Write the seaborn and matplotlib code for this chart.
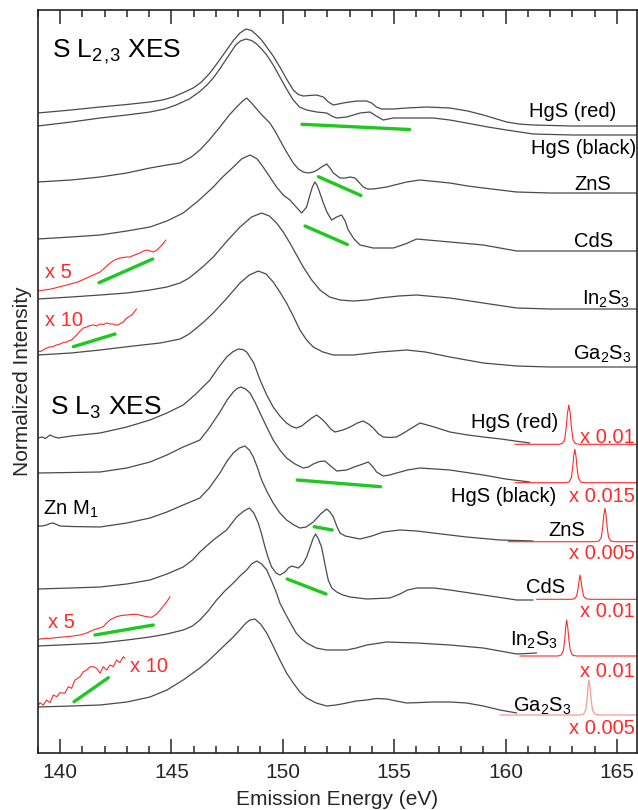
import matplotlib
matplotlib.use("Agg")
import matplotlib.pyplot as plt
import seaborn as sns
import pandas as pd

# ---------------- DATA (energy in eV, intensity in arbitrary stacked units) ----------------
# S L2,3 XES
l23_hgs_red_e = [139.0, 140.5, 141.8, 143.0, 144.04, 144.6, 145.08, 145.5, 145.98, 146.35, 146.73, 147.1, 147.48, 147.8, 148.08, 148.35, 148.6, 148.83, 149.05, 149.28, 149.57, 149.87, 150.17, 150.47, 150.7, 150.92, 151.2, 151.52, 151.82, 152.05, 152.27, 152.5, 152.71, 153.0, 153.32, 153.76, 153.99, 154.2, 154.44, 154.96, 155.56, 156.46, 157.5, 158.3, 159.0, 160.05, 160.6, 161.24, 163.0, 165.9]
l23_hgs_red_i = [640, 643, 646, 648.5, 651, 653, 656, 660, 665, 671, 680, 691, 703, 713, 720, 724, 722.5, 718, 713, 706, 697, 686, 674, 663, 658.5, 657, 657.5, 658, 656, 651, 648, 649, 650, 651, 652, 652, 650, 646, 644, 644, 645, 646, 645, 642, 638, 631, 629, 628, 627, 627]

l23_hgs_black_e = [139.0, 140.5, 141.8, 143.0, 144.04, 144.7, 145.21, 145.8, 146.25, 146.6, 146.88, 147.14, 147.5, 147.89, 148.1, 148.35, 148.6, 148.83, 149.05, 149.28, 149.57, 149.87, 150.17, 150.47, 150.75, 151.07, 151.52, 151.97, 152.2, 152.42, 152.87, 153.47, 153.91, 154.2, 154.51, 154.96, 156.16, 156.75, 157.5, 158.25, 159.2, 160.05, 161.24, 163.0, 165.9]
l23_hgs_black_i = [627, 631, 635, 638, 641, 644, 648, 654, 661, 668, 675, 683, 695, 708, 712, 714, 712.5, 709, 704, 698, 688, 676, 664, 653, 646, 643, 641, 640, 637, 635, 636, 640, 641, 637, 633, 635, 635, 635, 633, 630, 626, 623, 619, 618, 618]

l23_zns_e = [139.0, 140.5, 141.8, 143.0, 144.04, 144.8, 145.39, 145.9, 146.28, 146.7, 147.18, 147.6, 147.93, 148.2, 148.38, 148.6, 148.98, 149.42, 149.65, 149.87, 150.17, 150.47, 150.7, 150.92, 151.15, 151.37, 151.55, 151.74, 151.97, 152.12, 152.27, 152.57, 152.8, 153.02, 153.24, 153.45, 153.61, 153.8, 154.06, 154.66, 155.56, 156.16, 157.5, 158.3, 159.0, 160.5, 162.0, 165.9]
l23_zns_i = [571, 573, 576, 580, 585, 588, 590, 596, 603, 613, 626, 638, 646, 652, 655, 650, 640, 630, 622, 613, 601, 590, 584, 581, 580, 581, 583, 586, 589, 585, 580, 575, 575, 576, 575, 570, 566, 564, 564, 566, 571, 573, 570, 567, 565, 561, 560, 560]

l23_cds_e = [139.0, 140.5, 141.8, 143.0, 144.04, 144.8, 145.53, 146.2, 146.88, 147.3, 147.78, 148.15, 148.53, 148.85, 149.12, 149.42, 149.72, 150.02, 150.32, 150.6, 150.85, 151.07, 151.22, 151.33, 151.44, 151.53, 151.62, 151.82, 151.98, 152.19, 152.42, 152.64, 152.8, 152.94, 153.2, 153.47, 154.06, 154.96, 155.5, 156.01, 157.5, 159.0, 160.5, 162.0, 165.9]
l23_cds_i = [514, 516, 518, 522, 526, 532, 540, 552, 566, 576, 586, 594, 598, 594, 586, 576, 566, 558, 553, 546, 540, 546, 558, 566, 571, 568, 563, 550, 541, 533, 536, 538, 532, 523, 514, 508, 505, 505, 509, 514, 511, 508, 502, 502, 502]

l23_in2s3_e = [139.0, 140.5, 141.8, 143.0, 144.04, 144.8, 145.39, 145.8, 146.13, 146.5, 146.88, 147.5, 148.08, 148.6, 149.05, 149.4, 149.72, 150.02, 150.32, 150.62, 150.92, 151.3, 151.67, 152.1, 152.57, 153.17, 153.8, 154.36, 155.2, 156.01, 157.5, 159.0, 160.5, 162.0, 165.9]
l23_in2s3_i = [454, 456, 458, 460, 463, 466, 470, 475, 481, 488, 496, 512, 526, 536, 540, 537, 530, 521, 510, 498, 486, 473, 463, 456, 453, 452, 453, 455, 457, 458, 455, 450, 445, 444, 444]
l23_in2s3_x5_e = [139.0, 139.6, 140.3, 140.8, 141.2, 141.5, 141.8, 142.0, 142.25, 142.45, 142.69, 143.0, 143.14, 143.35, 143.59, 143.75, 143.89, 144.05, 144.19, 144.35, 144.49, 144.62, 144.75]
l23_in2s3_x5_i = [462, 464, 468, 471, 475, 478, 481, 485, 490, 493, 495, 496, 496, 498, 500, 502, 503, 502, 501, 503, 506, 509, 513]

l23_ga2s3_e = [139.0, 140.5, 141.8, 143.29, 144.5, 145.39, 145.8, 146.13, 146.5, 146.88, 147.5, 148.08, 148.5, 148.9, 149.25, 149.57, 149.87, 150.17, 150.47, 150.77, 151.07, 151.37, 151.8, 152.27, 153.17, 154.36, 155.56, 156.4, 157.5, 159.0, 160.5, 162.0, 165.9]
l23_ga2s3_i = [398, 400, 403, 407, 410, 414, 419, 425, 432, 440, 455, 470, 478, 482, 479, 471, 461, 450, 437, 423, 413, 406, 401, 398, 398, 401, 403, 401, 396, 390, 387, 386, 386]
l23_ga2s3_x10_e = [139.0, 139.12, 139.25, 139.4, 139.55, 139.7, 139.85, 140.0, 140.15, 140.3, 140.42, 140.52, 140.65, 140.75, 140.9, 141.05, 141.2, 141.35, 141.49, 141.65, 141.8, 141.95, 142.1, 142.25, 142.39, 142.5, 142.62, 142.75, 142.84, 142.95, 143.07, 143.22, 143.33, 143.44]
l23_ga2s3_x10_i = [402, 401.5, 403, 405, 406, 406.5, 408, 409, 410.5, 411, 412.5, 413, 416, 418, 422, 425, 426, 427.5, 428, 427, 429, 428.5, 430, 429, 429, 428, 428, 430, 431, 434, 436, 438, 441, 444]

# S L3 XES
l3_hgs_red_e = [139.0, 139.2, 139.35, 139.55, 139.75, 139.92, 140.5, 141.8, 143.0, 144.04, 144.8, 145.53, 146.1, 146.73, 147.1, 147.48, 147.75, 148.0, 148.2, 148.38, 148.7, 148.98, 149.28, 149.57, 149.87, 150.17, 150.4, 150.62, 150.85, 151.07, 151.3, 151.52, 151.75, 151.97, 152.15, 152.34, 152.7, 153.02, 153.35, 153.61, 153.85, 154.06, 154.3, 154.51, 154.8, 155.11, 155.5, 155.86, 156.16, 156.8, 157.5, 158.3, 159.0, 159.8, 160.42, 161.09]
l3_hgs_red_i = [315, 316, 314.5, 318, 316, 315, 317, 320, 326, 333, 340, 348, 359, 373, 385, 396, 401, 404, 403.5, 401, 390, 373, 358, 346, 337, 330, 326.5, 325, 327, 331, 335, 338, 334, 329, 324, 321, 323, 326, 330, 332, 329, 325, 319, 316, 315.5, 316, 321, 326, 330, 326, 321, 318, 316, 314, 312, 310]
l3_hgs_red_el_e = [160.42, 162.4, 162.55, 162.65, 162.72, 162.78, 162.84, 162.9, 162.96, 163.03, 163.13, 163.3, 165.9]
l3_hgs_red_el_i = [308.7, 308.7, 309.5, 313, 325, 340, 348, 340, 325, 313, 309.5, 308.7, 308.7]

l3_hgs_black_e = [139.0, 140.5, 141.8, 143.0, 144.04, 144.8, 145.53, 146.28, 146.7, 147.18, 147.5, 147.78, 147.95, 148.12, 148.33, 148.53, 148.75, 148.98, 149.28, 149.57, 149.87, 150.17, 150.55, 150.92, 151.15, 151.37, 151.65, 151.89, 152.15, 152.42, 152.87, 153.2, 153.47, 153.84, 154.05, 154.21, 154.51, 154.8, 155.11, 155.6, 156.16, 157.5, 159.0, 160.0, 161.09]
l3_hgs_black_i = [280, 280.5, 281, 285, 291, 298, 306, 313, 325, 341, 353, 361, 364.5, 366, 364, 360, 351, 340, 326, 313, 303, 295, 289, 285, 286, 289, 291.5, 292, 287, 282, 283, 286, 288, 291, 286, 281, 277, 278, 280, 283, 285, 283, 278, 274, 271]
l3_hgs_black_el_e = [160.42, 162.7, 162.85, 162.95, 163.01, 163.06, 163.11, 163.16, 163.21, 163.27, 163.37, 163.55, 165.9]
l3_hgs_black_el_i = [270.3, 270.3, 271, 275, 285, 297, 303.7, 297, 285, 275, 271, 270.3, 270.3]

l3_zns_e = [139.0, 139.2, 139.4, 139.55, 139.7, 139.85, 140.0, 140.5, 141.8, 143.0, 144.04, 144.8, 145.53, 146.28, 146.7, 147.18, 147.5, 147.78, 148.05, 148.3, 148.5, 148.68, 148.87, 149.05, 149.3, 149.57, 149.87, 150.17, 150.5, 150.77, 151.05, 151.37, 151.7, 151.97, 152.12, 152.27, 152.42, 152.57, 152.8, 153.02, 153.47, 154.0, 154.51, 155.26, 156.0, 156.75, 158.25, 159.75, 161.24]
l3_zns_i = [227, 227, 228, 229.5, 230, 228.5, 227, 226.5, 226, 230, 235, 241, 248, 255, 265, 280, 292, 300, 305, 307, 303, 296, 285, 273, 261, 250, 240, 233, 228, 225, 226, 231, 239, 244, 241, 236, 227, 220, 217, 216, 214, 217, 221, 223, 222, 220, 216, 213, 212]
l3_zns_el_e = [160.12, 164.05, 164.2, 164.3, 164.36, 164.41, 164.46, 164.51, 164.56, 164.62, 164.72, 164.9, 165.9]
l3_zns_el_i = [211.3, 211.3, 212, 216, 226, 238, 244.7, 238, 226, 216, 212, 211.3, 211.3]

l3_cds_e = [139.0, 140.5, 141.8, 143.0, 144.04, 144.8, 145.53, 145.95, 146.28, 146.88, 147.48, 147.93, 148.25, 148.5, 148.7, 148.9, 149.05, 149.2, 149.35, 149.5, 149.7, 149.87, 150.1, 150.25, 150.4, 150.55, 150.7, 150.9, 151.07, 151.26, 151.37, 151.47, 151.6, 151.74, 151.9, 152.04, 152.2, 152.42, 152.7, 153.02, 153.77, 154.81, 155.26, 155.6, 156.01, 156.8, 157.5, 159.0, 160.5, 161.24]
l3_cds_i = [164, 165, 166, 169, 173, 179, 186, 193, 201, 213, 223, 236, 242, 245, 240, 230, 219, 206, 195, 186, 180, 178, 181, 185, 187, 186, 185, 189, 196, 208, 215, 219, 214, 206, 188, 173, 165, 161, 158, 156, 154, 155, 159, 163, 165, 165, 163, 158, 153, 153]
l3_cds_el_e = [161.39, 162.95, 163.1, 163.19, 163.25, 163.3, 163.34, 163.39, 163.44, 163.5, 163.6, 163.78, 165.9]
l3_cds_el_i = [153.7, 153.7, 154.3, 157, 164, 172, 178, 172, 164, 157, 154.3, 153.7, 153.7]

l3_in2s3_e = [139.0, 140.5, 141.8, 143.0, 144.04, 144.8, 145.53, 145.95, 146.28, 146.65, 147.03, 147.4, 147.78, 148.08, 148.38, 148.6, 148.83, 149.05, 149.28, 149.5, 149.72, 149.87, 150.1, 150.32, 150.6, 150.85, 151.07, 151.5, 151.97, 152.87, 153.3, 153.77, 154.66, 155.3, 156.01, 157.5, 159.0, 160.0, 160.5, 161.39]
l3_in2s3_i = [107, 108.5, 110, 113, 116, 119, 123, 127, 133, 142, 153, 162, 170, 177, 183, 189, 192, 189, 183, 172, 160, 150, 140, 131, 120, 114, 110, 105, 103, 103, 105, 108, 111, 110.5, 110, 108, 105, 101, 99, 100]
l3_in2s3_x5_e = [139.0, 139.3, 139.55, 139.9, 140.3, 140.6, 140.9, 141.2, 141.49, 141.7, 141.94, 142.1, 142.24, 142.4, 142.54, 142.75, 142.99, 143.2, 143.44, 143.65, 143.89, 144.11, 144.34, 144.5, 144.64, 144.8, 144.94]
l3_in2s3_x5_i = [113.7, 114.5, 114.7, 115.5, 116.3, 117, 118, 120, 123, 124.5, 126.3, 130, 133, 135, 136.3, 137.5, 138, 138.5, 138.7, 137.5, 136.3, 135.7, 139, 143, 147, 151.5, 156.3]
l3_in2s3_el_e = [160.64, 162.35, 162.5, 162.6, 162.66, 162.7, 162.74, 162.79, 162.84, 162.9, 163.0, 163.18, 165.9]
l3_in2s3_el_i = [97, 97, 98, 103, 114, 126, 133, 126, 114, 103, 98, 97, 97]

l3_ga2s3_e = [139.0, 140.5, 141.8, 143.0, 144.04, 144.8, 145.53, 146.28, 146.65, 147.03, 147.4, 147.78, 148.15, 148.35, 148.53, 148.75, 149.0, 149.28, 149.57, 149.87, 150.17, 150.47, 150.77, 151.07, 151.5, 151.97, 152.4, 152.87, 153.3, 153.77, 154.2, 154.66, 155.1, 155.56, 156.2, 156.75, 157.5, 158.25, 159.0, 159.75, 160.5]
l3_ga2s3_i = [46, 47, 48, 51, 56, 63, 73, 85, 92, 100, 108, 116, 125, 130, 133, 134, 129, 120, 107, 93, 80, 70, 61, 55, 50, 47, 48, 50, 52, 53, 54.5, 54, 52, 50, 50.5, 51, 51, 50, 47, 43, 40]
l3_ga2s3_x10_e = [139.0, 139.1, 139.25, 139.4, 139.55, 139.7, 139.85, 140.0, 140.22, 140.37, 140.52, 140.67, 140.9, 141.05, 141.2, 141.35, 141.49, 141.65, 141.8, 141.94, 142.1, 142.24, 142.39, 142.54, 142.69, 142.84, 142.92]
l3_ga2s3_x10_i = [46.3, 50.3, 48, 53, 50.3, 58, 56.3, 60.3, 59.7, 66.3, 64.7, 73, 76.3, 81.3, 83, 86.3, 86.3, 84.7, 79.7, 86.3, 83, 88, 86.3, 93, 90.3, 96.3, 94.7]
l3_ga2s3_el_e = [159.75, 163.35, 163.5, 163.6, 163.66, 163.7, 163.74, 163.79, 163.84, 163.9, 164.0, 164.18, 165.9]
l3_ga2s3_el_i = [38, 38, 39, 43, 54, 66, 73, 66, 54, 43, 39, 38, 38]

# green guide lines (start, end)
green_e = [[150.86, 155.69], [151.60, 153.51], [151.0, 152.90], [141.75, 144.16], [140.60, 142.47],
           [150.65, 154.39], [151.41, 152.22], [150.20, 151.94], [141.57, 144.19], [140.63, 142.17]]
green_i = [[628.7, 623.5], [576.3, 557.5], [527, 508.5], [470.3, 494], [406.3, 419],
           [273, 266.3], [226.3, 223], [174, 159], [118, 128], [51.3, 75.3]]

# labels
sample_names = ["HgS (red)", "HgS (black)", "ZnS", "CdS", r"In$_\mathregular{2}$S$_\mathregular{3}$", r"Ga$_\mathregular{2}$S$_\mathregular{3}$"]
l23_label_e = [164.98, 165.85, 164.76, 164.82, 165.58, 165.66]
l23_label_i = [635.7, 599, 563, 506.3, 448, 393]
l3_label_e = [162.36, 162.29, 163.56, 162.67, 162.36, 162.96]
l3_label_i = [324.7, 251.3, 217, 159.7, 107, 41.3]
elastic_factors = ["x 0.01", "x 0.015", "x 0.005", "x 0.01", "x 0.01", "x 0.005"]
elastic_label_i = [310.3, 251.3, 193.7, 135.7, 76.3, 19]

# ---------------- STYLE ----------------
sns.set_style("ticks")
plt.rcParams['font.family'] = ['Liberation Sans', 'DejaVu Sans']
plt.rcParams['mathtext.fontset'] = 'custom'
plt.rcParams['mathtext.rm'] = 'Liberation Sans'
plt.rcParams['mathtext.it'] = 'Liberation Sans:italic'
plt.rcParams['mathtext.default'] = 'regular'

BLACK = '#4a4a4a'
RED = '#ff2a2a'
PINK = '#f59a9a'
GREEN = '#1fc81f'

fig = plt.figure(figsize=(6.38, 8.10), dpi=100)
ax = fig.add_axes([37.7 / 638, 57 / 810, (637 - 37.7) / 638, 743 / 810])


def draw(e, i, color, lw=0.9):
    df = pd.DataFrame({'e': e, 'i': i})
    sns.lineplot(data=df, x='e', y='i', ax=ax, color=color, lw=lw, sort=False, estimator=None)


# black spectra
for e, i in [(l23_hgs_red_e, l23_hgs_red_i), (l23_hgs_black_e, l23_hgs_black_i), (l23_zns_e, l23_zns_i),
             (l23_cds_e, l23_cds_i), (l23_in2s3_e, l23_in2s3_i), (l23_ga2s3_e, l23_ga2s3_i),
             (l3_hgs_red_e, l3_hgs_red_i), (l3_hgs_black_e, l3_hgs_black_i), (l3_zns_e, l3_zns_i),
             (l3_cds_e, l3_cds_i), (l3_in2s3_e, l3_in2s3_i), (l3_ga2s3_e, l3_ga2s3_i)]:
    draw(e, i, BLACK, 0.9)

# red magnified / elastic lines
for e, i in [(l23_in2s3_x5_e, l23_in2s3_x5_i), (l23_ga2s3_x10_e, l23_ga2s3_x10_i),
             (l3_in2s3_x5_e, l3_in2s3_x5_i), (l3_ga2s3_x10_e, l3_ga2s3_x10_i),
             (l3_hgs_red_el_e, l3_hgs_red_el_i), (l3_hgs_black_el_e, l3_hgs_black_el_i),
             (l3_zns_el_e, l3_zns_el_i), (l3_cds_el_e, l3_cds_el_i), (l3_in2s3_el_e, l3_in2s3_el_i)]:
    draw(e, i, RED, 0.8)
draw(l3_ga2s3_el_e, l3_ga2s3_el_i, PINK, 0.9)

# green guides
for e, i in zip(green_e, green_i):
    draw(e, i, GREEN, 2.4)

# texts
FS = 14.5
for name, x, y in zip(sample_names, l23_label_e, l23_label_i):
    ax.text(x, y, name, ha='right', va='baseline', fontsize=FS, color='black')
for name, x, y in zip(sample_names, l3_label_e, l3_label_i):
    ax.text(x, y, name, ha='right', va='baseline', fontsize=FS, color='black')
for fac, y in zip(elastic_factors, elastic_label_i):
    ax.text(165.8, y, fac, ha='right', va='baseline', fontsize=FS, color=RED)

ax.text(139.33, 474.7, "x 5", ha='left', va='baseline', fontsize=FS, color=RED)
ax.text(139.33, 427, "x 10", ha='left', va='baseline', fontsize=FS, color=RED)
ax.text(139.45, 124.7, "x 5", ha='left', va='baseline', fontsize=FS, color=RED)
ax.text(143.14, 81.3, "x 10", ha='left', va='baseline', fontsize=FS, color=RED)
ax.text(139.25, 238, r"Zn M$_\mathregular{1}$", ha='left', va='baseline', fontsize=FS, color='black')
ax.text(139.63, 696, r"S L$_\mathregular{2}$$_\mathregular{,}$$_\mathregular{3}$ XES", ha='left', va='baseline', fontsize=19, color='black')
ax.text(139.55, 338, r"S L$_\mathregular{3}$ XES", ha='left', va='baseline', fontsize=19, color='black')

# axes
ax.set_xlim(139.0, 165.9)
ax.set_ylim(0, 743)
ax.set_xticks([140, 145, 150, 155, 160, 165])
ax.set_xticks(range(139, 166), minor=True)
ax.set_yticks([])
ax.tick_params(axis='x', which='major', direction='in', length=10, width=1.1, top=True, labelsize=15, pad=7)
ax.tick_params(axis='x', which='minor', direction='in', length=5, width=1.1, top=True)
for s in ax.spines.values():
    s.set_visible(True)
    s.set_linewidth(1.2)
    s.set_color('#222222')
ax.set_xlabel("Emission Energy (eV)", fontsize=15, labelpad=6)
ax.set_ylabel("Normalized Intensity", fontsize=15, labelpad=4)

fig.savefig("out.png", dpi=100)
